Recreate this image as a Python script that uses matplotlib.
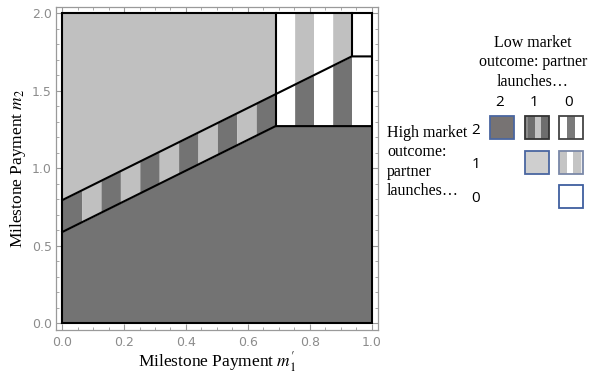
import matplotlib
matplotlib.use("Agg")
import matplotlib.pyplot as plt
import numpy as np

# region boundaries
lower_x = [0.0, 0.69, 1.0]
lower_y = [0.589, 1.273, 1.273]
upper_x = [0.0, 0.936, 1.0]
upper_y = [0.795, 1.723, 1.723]
x_split = 0.69      # where lower boundary turns flat
x_split2 = 0.936    # where upper boundary turns flat
n_stripes_left = 11
n_stripes_right = 4

DARK = "#737373"
LIGHT = "#c0c0c0"
WHITE = "#ffffff"

# legend: (row = high market launches, col = low market launches, stripe colours, edge colour)
leg_rows = [2, 2, 2, 1, 1, 0]
leg_cols = [2, 1, 0, 1, 0, 0]
leg_stripes = [
    [(0, 1, "#777373")],
    [(0, 0.15, "#8c8c8c"), (0.15, 0.42, "#6e6e6e"), (0.42, 0.7, "#c4c4c4"), (0.7, 1, "#6e6e6e")],
    [(0, 0.33, WHITE), (0.33, 0.67, "#7a7a7a"), (0.67, 1, WHITE)],
    [(0, 1, "#cfcfcf")],
    [(0, 0.33, "#c4c4c4"), (0.33, 0.6, WHITE), (0.6, 0.9, "#c4c4c4"), (0.9, 1, "#eeeeee")],
    [(0, 1, WHITE)],
]
leg_edges = ["#4a66a0", "#333333", "#444444", "#4a66a0", "#7a88a8", "#3f5f9f"]
col_labels = ["2", "1", "0"]
row_labels = ["2", "1", "0"]

plt.rcParams["mathtext.fontset"] = "stix"

W, H = 589, 375
fig = plt.figure(figsize=(W / 100, H / 100), dpi=100)


def fx(px):
    return px / W


def fy(py):
    return 1 - py / H


ax = fig.add_axes([fx(56), fy(329.5), fx(377.7) - fx(56), fy(7.3) - fy(329.5)])


def low(x):
    return np.interp(x, lower_x, lower_y)


def up(x):
    return np.interp(x, upper_x, upper_y)


# bottom region: partner launches 2 in both outcomes
ax.fill_between(lower_x, 0, lower_y, color=DARK, lw=0)

# upper left: light
xs = np.linspace(0, x_split, 50)
ax.fill_between(xs, up(xs), 2, color=LIGHT, lw=0)

# stripes between the two lines, left part
edges = np.linspace(0, x_split, n_stripes_left + 1)
for i in range(n_stripes_left):
    xx = np.array([edges[i], edges[i + 1]])
    c = DARK if i % 2 == 0 else LIGHT
    ax.fill_between(xx, low(xx), up(xx), color=c, lw=0)

# right part stripes
edges = np.linspace(x_split, x_split2, n_stripes_right + 1)
for i in range(n_stripes_right):
    xx = np.array([edges[i], edges[i + 1]])
    if i % 2 == 0:
        ax.fill_between(xx, low(xx), 2, color=WHITE, lw=0)
    else:
        ax.fill_between(xx, low(xx), up(xx), color=DARK, lw=0)
        ax.fill_between(xx, up(xx), 2, color=LIGHT, lw=0)

# far right
ax.fill_between([x_split2, 1.0], lower_y[-1], 2, color=WHITE, lw=0)

# boundaries
lw = 1.5
ax.plot(lower_x, lower_y, color="black", lw=lw)
ax.plot(upper_x, upper_y, color="black", lw=lw)
ax.plot([x_split, x_split], [lower_y[1], 2], color="black", lw=lw)
ax.plot([x_split2, x_split2], [upper_y[1], 2], color="black", lw=lw)
ax.plot([0, 1, 1, 0, 0], [0, 0, 2, 2, 0], color="black", lw=lw, solid_joinstyle="miter")

ax.set_xlim(-0.02, 1.02)
ax.set_ylim(-0.04, 2.04)
ax.set_xticks(np.arange(0, 1.01, 0.2))
ax.set_xticks(np.arange(0, 1.01, 0.05), minor=True)
ax.set_yticks(np.arange(0, 2.01, 0.5))
ax.set_yticks(np.arange(0, 2.01, 0.1), minor=True)
ax.set_xticklabels(["%.1f" % v for v in np.arange(0, 1.01, 0.2)])
ax.set_yticklabels(["%.1f" % v for v in np.arange(0, 2.01, 0.5)])
gray = "#9a9a9a"
for s in ax.spines.values():
    s.set_color(gray)
    s.set_linewidth(0.9)
ax.tick_params(which="both", direction="in", top=True, right=True, colors=gray,
               labelcolor="#8c8c8c", labelsize=9)
ax.tick_params(which="major", length=4, width=0.8)
ax.tick_params(which="minor", length=2, width=0.6)
ax.tick_params(axis="x", pad=5)
ax.tick_params(axis="y", pad=3)
ax.set_xlabel("Milestone Payment $m_1'$", family="Liberation Serif", fontsize=12.5, labelpad=0)
ax.set_ylabel("Milestone Payment $m_2$", family="Liberation Serif", fontsize=12.5, labelpad=3)

# legend block
serif = dict(family="Liberation Serif", fontsize=11.5, color="black")
for i, t in enumerate(["Low market", "outcome: partner", "launches\u2026"]):
    fig.text(fx(533), fy(43 + i * 19.5), t, ha="center", va="center", **serif)
for i, t in enumerate(["High market", "outcome:", "partner", "launches\u2026"]):
    fig.text(fx(387), fy(133 + i * 19.3), t, ha="left", va="center", **serif)

cell = 34.5
cx0, cy0 = 502, 127.5
lax = fig.add_axes([fx(cx0 - cell / 2), fy(cy0 + 2.5 * cell), 3 * cell / W, 3 * cell / H])
lax.set_xlim(-0.5, 2.5)
lax.set_ylim(2.5, -0.5)
lax.axis("off")
sw, sh = 24 / cell, 23 / cell
for r, c, st, ec in zip(leg_rows, leg_cols, leg_stripes, leg_edges):
    col = 2 - c
    row = 2 - r
    x0 = col - sw / 2
    y0 = row - sh / 2
    for a, b, color in st:
        lax.add_patch(plt.Rectangle((x0 + a * sw, y0), (b - a) * sw, sh, color=color, lw=0))
    lax.add_patch(plt.Rectangle((x0, y0), sw, sh, fill=False, edgecolor=ec, lw=1.3))

sans = dict(family="Open Sans", fontsize=11, color="black")
for i, t in enumerate(col_labels):
    fig.text(fx(cx0 + i * cell - 2), fy(103), t, ha="center", va="center", **sans)
for i, t in enumerate(row_labels):
    fig.text(fx(476), fy(131 + i * 34), t, ha="center", va="center", **sans)

fig.savefig("out.png", dpi=100)
